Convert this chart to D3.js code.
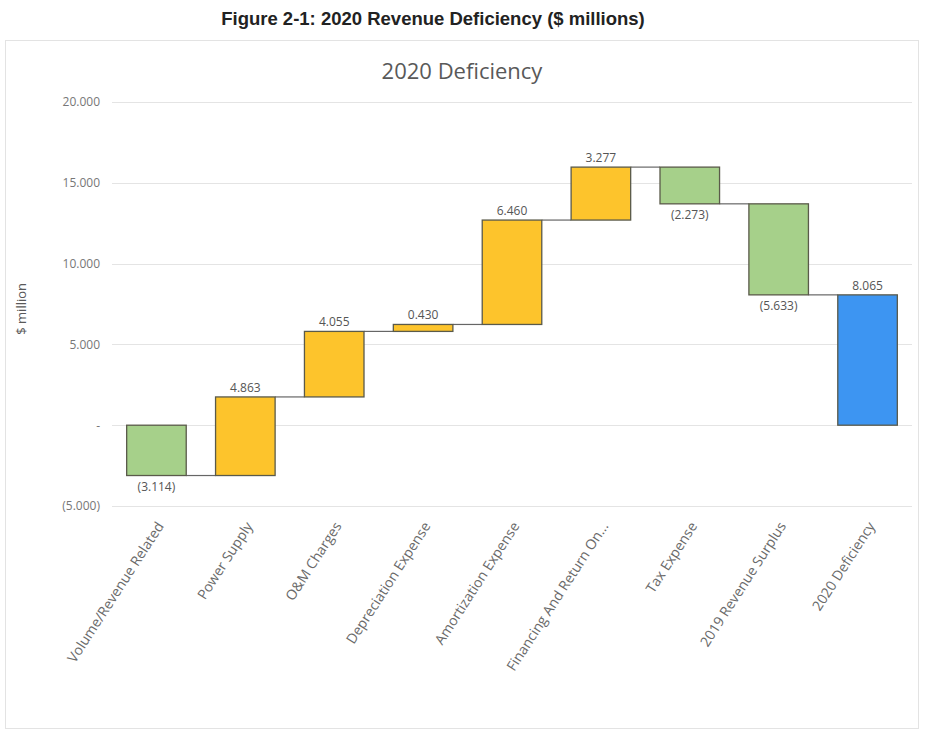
<!DOCTYPE html>
<html>
<head>
<meta charset="utf-8">
<script src="https://cdn.jsdelivr.net/npm/d3@7"></script>
<style>
  body { margin: 0; background: #fff; }
  text { font-family: "Open Sans", "Noto Sans", sans-serif; }
</style>
</head>
<body>
<svg id="chart" width="930" height="736"></svg>
<script>
const categories = [
    "Volume/Revenue Related", "Power Supply", "O&M Charges", "Depreciation Expense",
    "Amortization Expense", "Financing And Return On...", "Tax Expense",
    "2019 Revenue Surplus", "2020 Deficiency"
];
// changes in $ millions; the last one is the total
const values = [-3.114, 4.863, 4.055, 0.430, 6.460, 3.277, -2.273, -5.633, 8.065];
const isTotal = [false, false, false, false, false, false, false, false, true];
const yTicks = [-5, 0, 5, 10, 15, 20];

const colors = { up: "#fdc42c", down: "#a6d08a", total: "#3d95f2" };

const svg = d3.select("#chart");

// figure caption
svg.append("text")
    .attr("x", 433).attr("y", 25)
    .attr("text-anchor", "middle")
    .style("font-family", "'Liberation Sans', Arial, sans-serif")
    .style("font-weight", "bold")
    .style("font-size", "18.5px")
    .attr("fill", "#222")
    .text("Figure 2-1: 2020 Revenue Deficiency ($ millions)");

// chart frame
svg.append("rect")
    .attr("x", 5.5).attr("y", 40.5)
    .attr("width", 913).attr("height", 688)
    .attr("fill", "#fff")
    .attr("stroke", "#e3e3e3");

svg.append("text")
    .attr("x", 462).attr("y", 79)
    .attr("text-anchor", "middle")
    .style("font-size", "22px")
    .attr("fill", "#595959")
    .text("2020 Deficiency");

const margin = { left: 112, right: 912, top: 102, bottom: 506 };

// build waterfall steps
let running = 0;
const steps = values.map((v, i) => {
    let start, end;
    if (isTotal[i]) { start = 0; end = v; running = v; }
    else { start = running; end = running + v; running = end; }
    return { cat: categories[i], v, start, end, total: isTotal[i] };
});

const x = d3.scaleBand()
    .domain(categories)
    .range([margin.left, margin.right])
    .paddingInner(0.33)
    .paddingOuter(0.165);

const y = d3.scaleLinear()
    .domain([-5, 20])
    .range([margin.bottom, margin.top]);

const fmt = d => {
    if (d === 0) return "-";
    const s = d3.format(".3f")(Math.abs(d));
    return d < 0 ? "(" + s + ")" : s;
};

// gridlines
svg.append("g")
    .selectAll("line")
    .data(yTicks)
    .join("line")
    .attr("x1", margin.left).attr("x2", margin.right)
    .attr("y1", d => Math.round(y(d)) + 0.5)
    .attr("y2", d => Math.round(y(d)) + 0.5)
    .attr("stroke", "#e4e4e4");

// y axis labels
const yAxis = d3.axisLeft(y).tickValues(yTicks).tickFormat(fmt).tickSize(0).tickPadding(12);
svg.append("g")
    .attr("transform", `translate(${margin.left},0)`)
    .call(yAxis)
    .call(g => g.select(".domain").remove())
    .call(g => g.selectAll("text")
        .style("font-size", "12px")
        .style("font-family", "'Open Sans', sans-serif")
        .attr("fill", "#777"));

svg.append("text")
    .attr("transform", `translate(26,${y(7.2)}) rotate(-90)`)
    .attr("text-anchor", "middle")
    .style("font-size", "13px")
    .attr("fill", "#595959")
    .text("$ million");

// connectors
svg.append("g")
    .selectAll("line")
    .data(steps.slice(0, -1))
    .join("line")
    .attr("x1", d => x(d.cat) + x.bandwidth())
    .attr("x2", (d, i) => x(steps[i + 1].cat))
    .attr("y1", d => y(d.end))
    .attr("y2", d => y(d.end))
    .attr("stroke", "#666")
    .attr("stroke-width", 1.2);

// bars
svg.append("g")
    .selectAll("rect")
    .data(steps)
    .join("rect")
    .attr("x", d => x(d.cat))
    .attr("width", x.bandwidth())
    .attr("y", d => y(Math.max(d.start, d.end)))
    .attr("height", d => Math.abs(y(d.start) - y(d.end)))
    .attr("fill", d => d.total ? colors.total : (d.v < 0 ? colors.down : colors.up))
    .attr("stroke", "#5a5a4a")
    .attr("stroke-width", 1.3);

// value labels
svg.append("g")
    .selectAll("text")
    .data(steps)
    .join("text")
    .attr("x", d => x(d.cat) + x.bandwidth() / 2)
    .attr("y", d => d.v < 0 ? y(Math.min(d.start, d.end)) + 15 : y(Math.max(d.start, d.end)) - 5)
    .attr("text-anchor", "middle")
    .style("font-size", "12px")
    .attr("fill", "#555")
    .text(d => fmt(d.v));

// category labels
svg.append("g")
    .selectAll("text")
    .data(categories)
    .join("text")
    .attr("transform", d => `translate(${x(d) + x.bandwidth() / 2 + 8},${margin.bottom + 20}) rotate(-57)`)
    .attr("text-anchor", "end")
    .style("font-size", "14px")
    .attr("fill", "#6a6a6a")
    .text(d => d);
</script>
</body>
</html>
